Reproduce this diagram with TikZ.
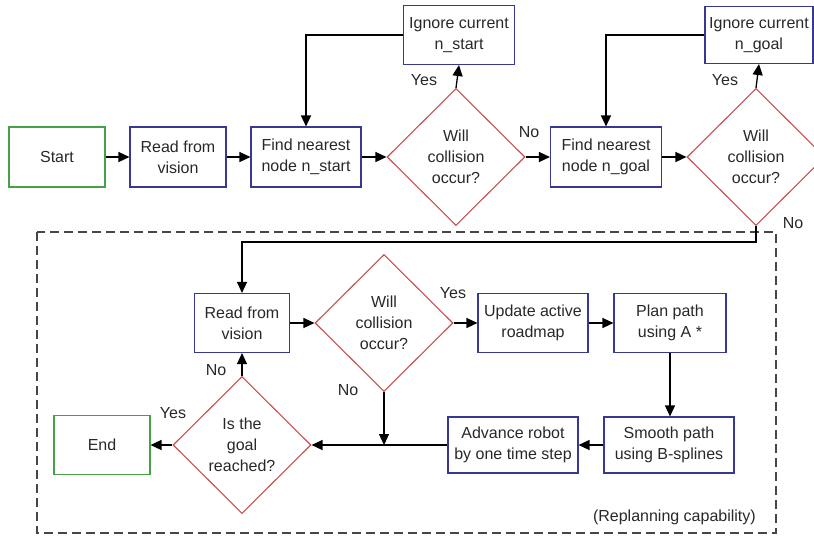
\documentclass[tikz,border=0pt]{standalone}
\usepackage{fontspec}
\setmainfont{Liberation Sans}
\usetikzlibrary{shapes.geometric,arrows.meta}
\definecolor{boxblue}{RGB}{55,55,150}
\definecolor{dred}{RGB}{200,80,80}
\definecolor{dgreen}{RGB}{70,160,70}
\definecolor{txt}{RGB}{40,40,40}
\definecolor{dashgray}{RGB}{70,70,70}
\tikzset{
  every node/.style={font=\fontsize{16}{21}\selectfont, text=txt},
  procbox/.style={draw=boxblue, line width=1.1pt, align=center, inner sep=0pt},
  termbox/.style={draw=dgreen, line width=1.1pt, align=center, inner sep=0pt, minimum width=96pt, minimum height=60pt},
  decision/.style={draw=dred, line width=1.1pt, diamond, align=center, inner sep=0pt, minimum width=138pt, minimum height=137pt},
  arr/.style={line width=1.3pt, draw=black, -{Triangle[length=11pt,width=10pt]}},
  lbl/.style={inner sep=0pt}
}
\begin{document}
\begin{tikzpicture}[x=1pt,y=-1pt]
\useasboundingbox (0,0) rectangle (814,538);
% top row
\node[termbox] (start) at (57,157) {Start};
\node[procbox, minimum width=96pt, minimum height=60pt] (read1) at (178,157) {Read from\\vision};
\node[procbox, minimum width=110pt, minimum height=60pt] (find1) at (306,157) {Find nearest\\node n\_start};
\node[decision] (d1) at (456,157) {Will\\collision\\occur?};
\node[procbox, minimum width=111pt, minimum height=59pt] (ign1) at (459,35) {Ignore current\\n\_start};
\node[procbox, minimum width=111pt, minimum height=60pt] (find2) at (606,157) {Find nearest\\node n\_goal};
\node[decision] (d2) at (756,157) {Will\\collision\\occur?};
\node[procbox, minimum width=108pt, minimum height=57pt] (ign2) at (759,35) {Ignore current\\n\_goal};
% dashed region
\draw[dashgray, line width=1.1pt, dash pattern=on 9pt off 5pt] (37,232) rectangle (776,533);
\node[lbl, anchor=east] (rep) at (756,517) {(Replanning capability)};
% inner loop
\node[procbox, minimum width=95pt, minimum height=59pt] (read2) at (242,323) {Read from\\vision};
\node[decision] (d3) at (384,323) {Will\\collision\\occur?};
\node[procbox, minimum width=110pt, minimum height=59pt] (upd) at (533,323) {Update active\\roadmap};
\node[procbox, minimum width=112pt, minimum height=59pt] (plan) at (670,323) {Plan path\\using A *};
\node[procbox, minimum width=130pt, minimum height=56pt] (smooth) at (669,445) {Smooth path\\using B-splines};
\node[procbox, minimum width=130pt, minimum height=56pt] (adv) at (513,445) {Advance robot\\by one time step};
\node[decision] (d4) at (242,445) {Is the\\goal\\reached?};
\node[termbox, minimum height=59pt] (endn) at (102,445) {End};
% labels
\node[lbl] (y1) at (424,80) {Yes};
\node[lbl] (n1) at (529,132) {No};
\node[lbl] (y2) at (725,80) {Yes};
\node[lbl] (n2) at (793,223) {No};
\node[lbl] (y3) at (453,293) {Yes};
\node[lbl] (n3) at (348,390) {No};
\node[lbl] (n4) at (216,370) {No};
\node[lbl] (y4) at (173,413) {Yes};
% coordinates
\coordinate (c1) at (756,242);
\coordinate (j) at (384,445);
% connectors top
\draw[arr] (start) -- (read1);
\draw[arr] (read1) -- (find1);
\draw[arr] (find1) -- (d1.west);
\draw[arr] (d1.north) -- (ign1.south);
\draw[arr] (ign1.west) -| (find1.north);
\draw[arr] (d1.east) -- (find2.west);
\draw[arr] (find2) -- (d2.west);
\draw[arr] (d2.north) -- (ign2.south);
\draw[arr] (ign2.west) -| (find2.north);
\draw[arr] (d2.south) -- (c1) -| (read2.north);
% connectors inner
\draw[arr] (read2) -- (d3.west);
\draw[arr] (d3.east) -- (upd.west);
\draw[arr] (upd) -- (plan);
\draw[arr] (plan) -- (plan |- smooth.north);
\draw[arr] (smooth) -- (adv);
\draw[arr] (adv) -- (d4.east);
\draw[arr] (d3.south) -- (j);
\draw[arr] (d4.north) -- (read2.south);
\draw[arr] (d4.west) -- (endn.east);
\end{tikzpicture}
\end{document}
